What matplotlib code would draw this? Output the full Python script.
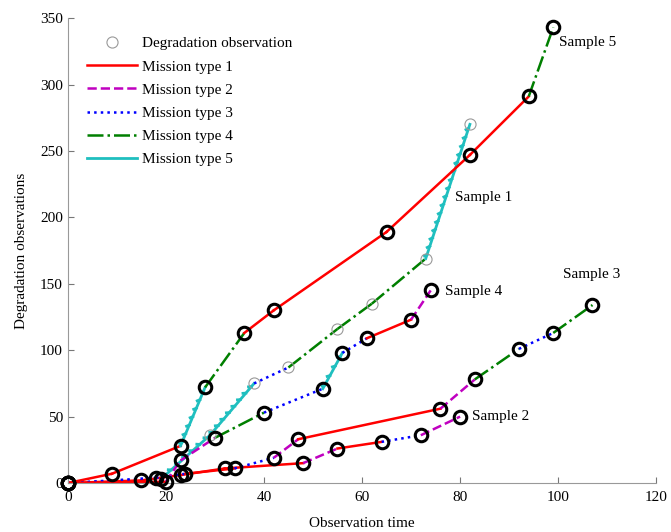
import matplotlib
matplotlib.use("Agg")
import matplotlib.pyplot as plt
import matplotlib.patheffects as pe

plt.rcParams['font.family'] = ['Liberation Serif', 'DejaVu Serif']

# sample paths: points, mission type of each segment, gray (1) / black (0) circles
s1_x = [0, 19, 29, 38, 45, 55, 62, 73, 82]
s1_y = [0, 3, 36, 75, 87, 116, 135, 169, 270]
s1_t = [3, 5, 5, 3, 4, 4, 4, 5]
s1_g = [0, 0, 1, 1, 1, 1, 1, 1, 1]

s2_x = [0, 15, 23, 32, 48, 55, 64, 72, 80]
s2_y = [0, 2, 6, 11, 15, 26, 31, 36, 50]
s2_t = [1, 1, 1, 1, 2, 1, 3, 2]
s2_g = [0, 0, 0, 0, 0, 0, 0, 0, 0]

s3_x = [0, 18, 24, 34, 42, 47, 76, 83, 92, 99, 107]
s3_y = [0, 4, 7, 11, 19, 33, 56, 78, 101, 113, 134]
s3_t = [3, 3, 1, 3, 2, 1, 2, 4, 3, 4]
s3_g = [0, 0, 0, 0, 0, 0, 0, 0, 0, 0, 0]

s4_x = [0, 20, 23, 30, 40, 52, 56, 61, 70, 74]
s4_y = [0, 1, 17, 34, 53, 71, 98, 109, 123, 145]
s4_t = [1, 2, 2, 4, 3, 5, 3, 1, 2]
s4_g = [0, 0, 0, 0, 0, 0, 0, 0, 0, 0]

s5_x = [0, 9, 23, 28, 36, 42, 65, 82, 94, 99]
s5_y = [0, 7, 28, 72, 113, 130, 189, 247, 291, 343]
s5_t = [1, 1, 5, 4, 1, 1, 1, 1, 4]
s5_g = [0, 0, 0, 0, 0, 0, 0, 0, 0, 0]

labels = ["Sample 1", "Sample 2", "Sample 3", "Sample 4", "Sample 5"]
label_x = [79, 82.4, 101, 76.9, 100.2]
label_y = [215, 50, 157, 144, 332]

styles = {
    1: dict(color="#ff0000", ls="-"),
    2: dict(color="#c000c0", ls="--"),
    3: dict(color="#0000ff", ls=":"),
    4: dict(color="#007f00", ls="-."),
    5: dict(color="#1fbfbf", ls="-"),
}
ticked = [pe.withTickedStroke(spacing=6, angle=135, length=0.35)]

fig = plt.figure(figsize=(6.71, 5.32), dpi=100)
ax = fig.add_axes([0.101, 0.092, 0.877, 0.874])

samples = [(s1_x, s1_y, s1_t, s1_g), (s2_x, s2_y, s2_t, s2_g),
           (s3_x, s3_y, s3_t, s3_g), (s4_x, s4_y, s4_t, s4_g),
           (s5_x, s5_y, s5_t, s5_g)]

for xs, ys, ts, gs in samples:
    for i, t in enumerate(ts):
        st = styles[t]
        ax.plot(xs[i:i + 2], ys[i:i + 2], color=st["color"], ls=st["ls"],
                lw=2.0 if t == 5 else 1.8, zorder=2,
                path_effects=ticked if t == 5 else None)
    for x, y, g in zip(xs, ys, gs):
        if g:
            ax.plot(x, y, "o", mfc="none", mec="#999999", ms=8, mew=0.8,
                    zorder=4, clip_on=False)
        else:
            ax.plot(x, y, "o", mfc="none", mec="black", ms=9, mew=2.2,
                    zorder=4, clip_on=False)

for lab, lx, ly in zip(labels, label_x, label_y):
    ax.text(lx, ly, lab, fontsize=11, va="center", ha="left")

# legend handles
ax.plot([], [], "o", mfc="none", mec="#999999", ms=8, mew=0.8, ls="none",
        label="Degradation observation")
for t in range(1, 6):
    st = styles[t]
    ax.plot([], [], color=st["color"], ls=st["ls"], lw=2.0 if t == 5 else 1.8,
            label="Mission type %d" % t)
ax.legend(loc="upper left", bbox_to_anchor=(0.032, 0.96), frameon=False,
          fontsize=11, handlelength=3.3, labelspacing=0.62,
          handletextpad=0.35, borderaxespad=0, borderpad=0)

ax.set_xlim(0, 120)
ax.set_ylim(0, 350)
ax.set_xticks([0, 20, 40, 60, 80, 100, 120])
ax.set_yticks([0, 50, 100, 150, 200, 250, 300, 350])
ax.spines["top"].set_visible(False)
ax.spines["right"].set_visible(False)
ax.spines["left"].set_color("#999999")
ax.spines["bottom"].set_color("#999999")
ax.tick_params(direction="in", length=4, color="#777777", labelsize=11)
ax.tick_params(axis="x", pad=6)
ax.set_xlabel("Observation time", fontsize=11, labelpad=9)
ax.set_ylabel("Degradation observations", fontsize=11, labelpad=9)

fig.savefig("out.png", dpi=100)
